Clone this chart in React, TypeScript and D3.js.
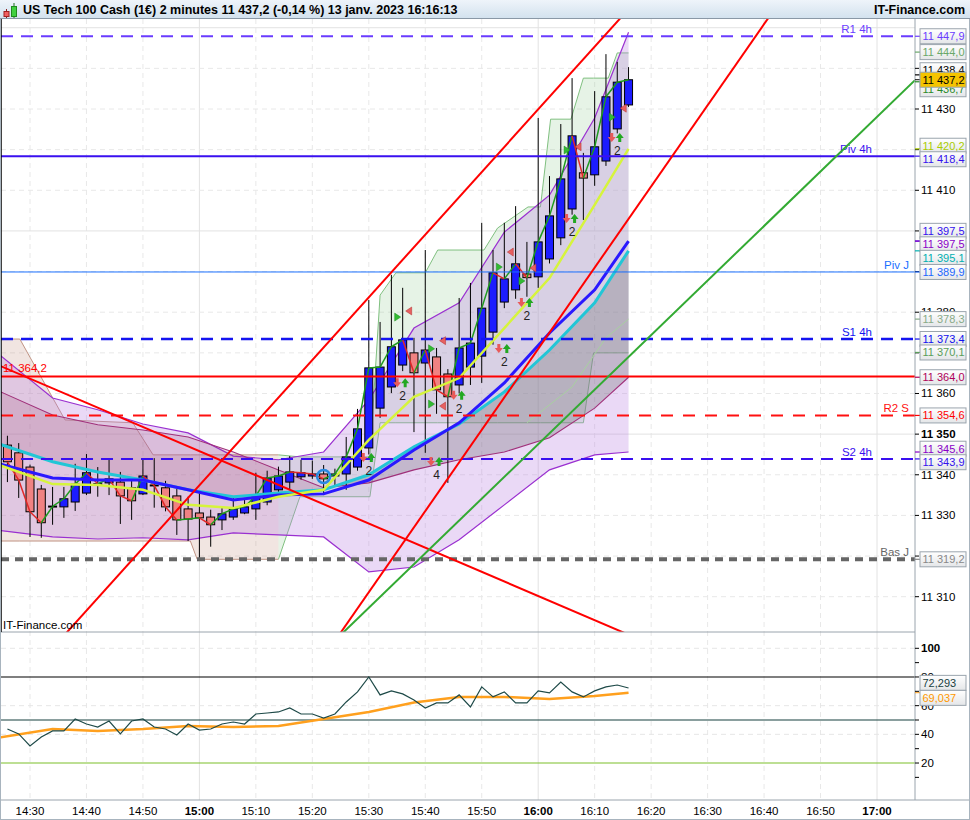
import * as d3 from "d3";

const W = 970;
const H = 820;
const AXIS_X = 915;
const MAIN_TOP = 19;
const MAIN_BOTTOM = 632;
const RSI_BOTTOM = 800;
const FONT = "'Liberation Sans', Arial, sans-serif";

// 2-minute bars, first one at 14:26
const START = new Date(2023, 0, 13, 14, 26);
const STEP_MIN = 2;

const opens = [
  11347.3, 11345.4, 11341.9, 11336.5, 11332.3, 11332.1, 11333.3, 11335.5, 11337.7, 11338.0,
  11338.2, 11336.8, 11335.3, 11337.5, 11336.8, 11334.8, 11331.6, 11330.6, 11329.6, 11328.9,
  11329.6, 11330.6, 11331.6, 11333.3, 11336.3, 11338.2, 11339.5, 11339.7, 11340.2, 11339.7,
  11340.2, 11341.9, 11346.6, 11356.4, 11361.6, 11367.0, 11370.0, 11367.5, 11369.0, 11364.8,
  11362.1, 11366.5, 11369.2, 11375.1, 11382.5, 11385.5, 11389.4, 11388.7, 11393.1, 11398.3,
  11405.4, 11414.3, 11413.8, 11417.2, 11425.1, 11431.0,
];
const highs = [
  11349.6, 11347.8, 11342.5, 11337.5, 11337.0, 11337.0, 11342.7, 11345.1, 11341.9, 11343.7,
  11340.7, 11338.7, 11343.7, 11344.1, 11338.5, 11336.8, 11334.6, 11335.8, 11331.4, 11331.8,
  11334.3, 11334.3, 11340.5, 11341.0, 11342.0, 11344.6, 11343.7, 11343.5, 11342.4, 11341.5,
  11349.3, 11356.2, 11383.0, 11377.6, 11389.2, 11386.0, 11373.7, 11395.3, 11371.2, 11366.0,
  11383.5, 11387.2, 11402.0, 11395.3, 11402.0, 11406.1, 11397.3, 11427.8, 11413.5, 11426.3,
  11437.6, 11419.2, 11434.4, 11443.5, 11441.6, 11440.3,
];
const lows = [
  11338.2, 11334.3, 11324.7, 11324.5, 11327.7, 11329.4, 11331.1, 11335.0, 11334.6, 11335.0,
  11327.9, 11328.9, 11335.0, 11331.9, 11331.0, 11325.2, 11323.7, 11319.2, 11322.3, 11326.4,
  11328.9, 11330.3, 11328.9, 11332.5, 11335.0, 11336.3, 11338.8, 11339.0, 11335.0, 11337.0,
  11336.3, 11341.0, 11345.0, 11354.0, 11360.1, 11365.5, 11350.5, 11345.4, 11355.0, 11338.0,
  11360.0, 11362.1, 11362.6, 11372.0, 11381.0, 11383.3, 11383.8, 11386.0, 11392.0, 11396.5,
  11404.0, 11402.7, 11411.1, 11416.0, 11424.0, 11430.5,
];
const closes = [
  11343.2, 11338.7, 11330.9, 11328.2, 11332.2, 11334.1, 11337.7, 11340.5, 11337.8, 11339.0,
  11334.8, 11333.6, 11339.7, 11337.4, 11332.1, 11328.9, 11329.1, 11329.4, 11327.7, 11330.4,
  11331.6, 11332.1, 11334.8, 11339.2, 11339.7, 11340.7, 11340.5, 11340.2, 11339.0, 11340.2,
  11344.4, 11351.3, 11366.3, 11366.5, 11371.5, 11373.2, 11365.1, 11370.7, 11360.9, 11359.2,
  11371.2, 11372.4, 11381.0, 11389.7, 11388.2, 11391.9, 11388.5, 11397.3, 11403.7, 11412.8,
  11423.4, 11413.0, 11420.7, 11433.0, 11436.6, 11437.2,
];
const LAST_PRICE = 11437.2;

// indicator lines, read at these bar indices
const maIdx = [-1, 4, 8, 12, 16, 20, 24, 28, 32, 36, 40, 44, 48, 52, 55];
const maBlue = [11342.9, 11339.2, 11338.7, 11338.7, 11336.3, 11333.8, 11335.0, 11335.3, 11338.7, 11346.1, 11352.8, 11362.6, 11374.9, 11385.5, 11397.5];
const maCyan = [11347.8, 11343.2, 11340.7, 11338.7, 11336.3, 11334.6, 11335.5, 11336.3, 11340.0, 11346.9, 11352.5, 11360.4, 11370.7, 11382.3, 11395.1];
const maYellow = [11342.7, 11337.7, 11337.5, 11336.3, 11332.6, 11331.8, 11334.6, 11336.3, 11348.6, 11359.2, 11363.8, 11376.1, 11388.4, 11406.4, 11420.2];
const bollUp = [11370.2, 11358.9, 11356.0, 11352.5, 11350.3, 11344.6, 11343.7, 11345.6, 11358.4, 11376.1, 11382.3, 11399.7, 11408.8, 11427.8, 11448.9];
const bollLow = [11326.4, 11324.7, 11324.2, 11324.5, 11324.0, 11325.7, 11325.2, 11324.7, 11316.1, 11317.3, 11324.0, 11332.6, 11341.2, 11344.9, 11345.6];
const cloudLine = [11360.9, 11354.7, 11352.3, 11351.0, 11349.3, 11345.6, 11341.2, 11336.8, 11338.0, 11341.2, 11343.7, 11345.6, 11349.1, 11356.4, 11364.0];

const faintIdx = [46, 50, 53, 55];
const faintVal = [11352.8, 11361.6, 11373.7, 11378.3];

// high / low channel breakpoints
const chanIdx = [-0.6, 1.1, 5.1, 11.1, 12.9, 16.2, 16.8, 24, 25.9, 32.1, 33, 34.4, 37, 38.1, 42.2, 43.4, 46.1, 47.2, 48.1, 49.9, 51, 51.9, 53.2, 54, 55];
const chanHigh = [11373.4, 11373.4, 11353.5, 11352.8, 11344.9, 11344.9, 11344.9, 11344.9, 11344.4, 11344.4, 11384.2, 11389.7, 11389.7, 11395.3, 11395.3, 11400.7, 11405.9, 11405.9, 11427.5, 11427.5, 11437.6, 11437.6, 11437.6, 11443.8, 11443.8];
const chanLow = [11323.7, 11323.7, 11323.7, 11323.7, 11323.7, 11323.7, 11319.2, 11319.2, 11334.6, 11334.6, 11352.8, 11352.8, 11352.8, 11352.8, 11352.8, 11352.8, 11352.8, 11352.8, 11352.8, 11352.8, 11352.8, 11370.0, 11370.0, 11370.0, 11370.0];
const CHAN_SPLIT = 24;

// trend lines: two anchors each [bar index, price]
const trendRed1 = [[10.25, 11316.6], [54.13, 11451.9]];
const trendRed2 = [[32.15, 11311.7], [54.31, 11400.2]];
const trendRed3 = [[-0.39, 11366.5], [45.71, 11311.7]];
const trendGreen = [[33.65, 11311.7], [56.08, 11371.9]];

// pivot levels
const pivotLevels = [11447.9, 11418.4, 11389.9, 11373.4, 11364.2, 11354.6, 11343.9, 11319.2];
const pivotNames = ["R1 4h", "Piv 4h", "Piv J", "S1 4h", "", "R2 S", "S2 4h", "Bas J"];
const pivotStyle = [
  { color: "#6a3cff", width: 2, dash: "12,8", end: 872 },
  { color: "#3a10f0", width: 2, dash: "", end: 872 },
  { color: "#1a70ff", width: 1, dash: "", end: 909 },
  { color: "#1414f0", width: 2.5, dash: "12,8", end: 872 },
  { color: "#ff0000", width: 2, dash: "", end: 909 },
  { color: "#ff1010", width: 2, dash: "12,10", end: 909 },
  { color: "#3a10f0", width: 2, dash: "12,8", end: 872 },
  { color: "#666666", width: 4, dash: "8,6", end: 909 },
];

// signals
const sigIdx = [32, 35, 38, 40, 44, 46, 50, 54];
const sigPrice = [11343.9, 11362.3, 11342.9, 11359.2, 11370.7, 11382.0, 11402.7, 11422.6];
const sigCount = ["2", "2", "4", "2", "2", "2", "2", "2"];
const triIdx = [35, 38, 38, 44, 46, 50, 54];
const triGreen = [11378.8, 11357.4, 11371.0, 11391.1, 11387.7, 11419.9, 11428.0];
const triRed = [11380.3, 11356.9, 11373.0, 11394.8, 11390.9, 11420.7, 11430.2];
const MARKED_BAR = 28;

// right axis tags
const tagValues = [11447.9, 11444.0, 11438.4, 11436.7, 11420.2, 11418.4, 11397.5, 11397.5, 11395.1, 11389.9, 11378.3, 11373.4, 11370.1, 11364.0, 11354.6, 11345.6, 11343.9, 11319.2];
const tagColors = ["#6a3cff", "#6aa86a", "#000000", "#2a8a2a", "#a8cc00", "#3311ee", "#3311ee", "#8a00c8", "#00b0b0", "#1a66ff", "#88aa88", "#1010ee", "#5a9e5a", "#b0005a", "#ff0000", "#8a00c8", "#3311ee", "#888888"];
const priceTicks = d3.range(11310, 11441, 10);

// RSI
const rsiValues = [
  43.7, 40.3, 31.9, 38.2, 42.4, 42.4, 50.7, 47.2, 45.1, 49.3,
  40.3, 49.3, 50.7, 45.1, 43.7, 39.6, 47.2, 43.0, 43.7, 47.2,
  48.6, 47.2, 54.2, 54.9, 55.6, 58.4, 54.2, 54.2, 51.4, 54.2,
  62.6, 69.6, 80.0, 67.5, 70.3, 68.2, 64.0, 58.4, 61.9, 61.9,
  67.5, 59.1, 73.1, 66.1, 69.6, 61.9, 61.9, 70.3, 68.9, 76.5,
  69.6, 66.1, 70.3, 73.1, 74.4, 72.293,
];
const rsiMaIdx = [-1, 4, 8, 12, 16, 20, 24, 28, 32, 36, 40, 44, 48, 52, 55];
const rsiMa = [37.5, 43.7, 42.4, 43.7, 45.8, 45.1, 45.8, 50.7, 55.6, 62.2, 66.1, 66.1, 64.7, 66.8, 69.037];
const rsiTicks = [20, 40, 60, 80, 100];

const HEADER = "US Tech 100 Cash (1€) 2 minutes 11 437,2 (-0,14 %) 13 janv. 2023 16:16:13";

const xScale = d3
  .scaleTime()
  .domain([new Date(2023, 0, 13, 14, 30), new Date(2023, 0, 13, 17, 0)])
  .range([30, 877]);
const xIdx = (i: number) => xScale(new Date(START.getTime() + i * STEP_MIN * 60000));
const yScale = d3.scaleLinear().domain([11310, 11430]).range([596.7, 109]);
const rsiScale = d3.scaleLinear().domain([0, 100]).range([791.7, 648.3]);

const fmtPrice = (v: number) => d3.format(",.1f")(v).replace(",", " ").replace(".", ",");
const fmtTick = (v: number) => d3.format(",.0f")(v).replace(",", " ");
const fmtRsi = (v: number) => d3.format(".3f")(v).replace(".", ",");

const lineOf = (idx: number[], vals: number[], ys: (v: number) => number) =>
  d3
    .line<number>()
    .x((_, k) => xIdx(idx[k]))
    .y((v) => ys(v))(vals) || "";

const bandOf = (idx: number[], lo: number[], hi: number[], from: number, to: number) => {
  const ks = d3.range(idx.length).filter((k) => idx[k] >= from && idx[k] <= to);
  return (
    d3
      .area<number>()
      .x((k) => xIdx(idx[k]))
      .y0((k) => yScale(lo[k]))
      .y1((k) => yScale(hi[k]))(ks) || ""
  );
};

const trendPath = (pts: number[][]) => {
  const x1 = xIdx(pts[0][0]);
  const y1 = yScale(pts[0][1]);
  const x2 = xIdx(pts[1][0]);
  const y2 = yScale(pts[1][1]);
  const k = (y2 - y1) / (x2 - x1);
  return `M0,${y1 - k * x1}L${AXIS_X},${y1 + k * (AXIS_X - x1)}`;
};

// relax overlapping tags; the anchored tag (last price) does not move
const relax = (ys: number[], anchor: number, gap: number, anchorGap: number) => {
  const out = [...ys, anchor];
  const fixed = out.map((_, i) => i === out.length - 1);
  for (let it = 0; it < 300; it++) {
    const order = d3.range(out.length).sort((a, b) => out[a] - out[b] || a - b);
    for (let j = 1; j < order.length; j++) {
      const a = order[j - 1];
      const b = order[j];
      const g = fixed[a] || fixed[b] ? anchorGap : gap;
      const d = out[b] - out[a];
      if (d < g) {
        const over = g - d;
        if (fixed[a]) out[b] += over;
        else if (fixed[b]) out[a] -= over;
        else {
          out[a] -= over / 2;
          out[b] += over / 2;
        }
      }
    }
  }
  return out.slice(0, ys.length);
};

const Tag = ({ y, text, color, fill }: { y: number; text: string; color: string; fill?: string }) => (
  <g>
    <rect x={920} y={y - 7.5} width={46} height={15} fill={fill || "url(#tagGrad)"} stroke="#9aa4ad" />
    <text x={922.5} y={y + 4} fontSize={11} fill={color}>
      {text}
    </text>
  </g>
);

export default function App() {
  const bars = d3.range(opens.length);
  const timeTicks = xScale.ticks(d3.timeMinute.every(10) as d3.TimeInterval);
  const tagYs = relax(tagValues.map((v) => yScale(v)), yScale(LAST_PRICE), 13.5, 9.5);
  const rsiTagYs = [rsiScale(rsiValues[rsiValues.length - 1]), rsiScale(rsiMa[rsiMa.length - 1])];
  const rsiMid = (rsiTagYs[0] + rsiTagYs[1]) / 2;

  return (
    <svg
      width={W}
      height={H}
      style={{ position: "absolute", left: 0, top: 0, background: "#fff" }}
      fontFamily={FONT}
    >
      <defs>
        <linearGradient id="hdr" x1="0" y1="0" x2="0" y2="1">
          <stop offset="0" stopColor="#eef4fa" />
          <stop offset="1" stopColor="#d3e2ee" />
        </linearGradient>
        <linearGradient id="tagGrad" x1="0" y1="0" x2="0" y2="1">
          <stop offset="0" stopColor="#ffffff" />
          <stop offset="1" stopColor="#e4e6e8" />
        </linearGradient>
        <clipPath id="mainClip">
          <rect x={1} y={MAIN_TOP} width={AXIS_X - 1} height={MAIN_BOTTOM - MAIN_TOP} />
        </clipPath>
        <clipPath id="rsiClip">
          <rect x={1} y={MAIN_BOTTOM} width={AXIS_X - 1} height={RSI_BOTTOM - MAIN_BOTTOM} />
        </clipPath>
      </defs>

      {/* grid */}
      {timeTicks.map((t, i) => (
        <line
          key={`vg${i}`}
          x1={xScale(t)}
          x2={xScale(t)}
          y1={MAIN_TOP}
          y2={RSI_BOTTOM}
          stroke={t.getMinutes() === 0 ? "#e2e2e2" : "#e8e8e8"}
          strokeDasharray={t.getMinutes() === 0 ? "" : "5,4"}
        />
      ))}
      {d3.range(11300, 11451, 10).map((v) => (
        <line
          key={`hg${v}`}
          x1={1}
          x2={AXIS_X}
          y1={yScale(v)}
          y2={yScale(v)}
          stroke={v % 50 === 0 ? "#e2e2e2" : "#e8e8e8"}
          strokeDasharray={v % 50 === 0 ? "" : "5,4"}
          clipPath="url(#mainClip)"
        />
      ))}
      {[100, 60, 40].map((v) => (
        <line key={`rg${v}`} x1={1} x2={AXIS_X} y1={rsiScale(v)} y2={rsiScale(v)} stroke="#e6e6e6" strokeDasharray="5,4" />
      ))}

      <g clipPath="url(#mainClip)">
        {/* high / low channel */}
        <path d={bandOf(chanIdx, chanLow, chanHigh, -1, CHAN_SPLIT)} fill="rgba(190,135,120,0.22)" />
        <path d={bandOf(chanIdx, chanLow, chanHigh, CHAN_SPLIT, 60)} fill="rgba(140,200,140,0.22)" />
        {[chanHigh, chanLow].map((arr, j) => (
          <g key={`ch${j}`}>
            <path
              d={lineOf(chanIdx.filter((i) => i <= CHAN_SPLIT), arr.filter((_, k) => chanIdx[k] <= CHAN_SPLIT), yScale)}
              fill="none"
              stroke="#c09484"
              strokeWidth={1}
            />
            <path
              d={lineOf(chanIdx.filter((i) => i >= CHAN_SPLIT), arr.filter((_, k) => chanIdx[k] >= CHAN_SPLIT), yScale)}
              fill="none"
              stroke="#80c080"
              strokeWidth={1}
            />
          </g>
        ))}

        {/* bollinger */}
        <path d={bandOf(maIdx, bollLow, bollUp, -2, 60)} fill="rgba(185,130,225,0.3)" />
        <path d={lineOf(maIdx, bollUp, yScale)} fill="none" stroke="#9a30d0" strokeWidth={1.2} />
        <path d={lineOf(maIdx, bollLow, yScale)} fill="none" stroke="#9a30d0" strokeWidth={1.2} />

        {/* cloud */}
        <path d={bandOf(maIdx, maCyan, cloudLine, -2, 28)} fill="rgba(150,60,100,0.18)" />
        <path d={bandOf(maIdx, cloudLine, maCyan, 28, 60)} fill="rgba(105,105,105,0.3)" />
        <path d={lineOf(maIdx, cloudLine, yScale)} fill="none" stroke="#a0307a" strokeWidth={1.1} />
        <path d={lineOf(faintIdx, faintVal, yScale)} fill="none" stroke="#a8d0a0" strokeWidth={1} />

        {/* candles */}
        {bars.map((i) => {
          const cx = xIdx(i);
          const up = closes[i] >= opens[i];
          const top = yScale(Math.max(opens[i], closes[i]));
          const bot = yScale(Math.min(opens[i], closes[i]));
          return (
            <g key={`c${i}`}>
              <line x1={cx} x2={cx} y1={yScale(highs[i])} y2={yScale(lows[i])} stroke="#000" strokeWidth={1} />
              <rect
                x={cx - 4}
                y={top}
                width={8}
                height={Math.max(1, bot - top)}
                fill={up ? "#1c1cff" : "#f08282"}
                stroke="#000"
                strokeWidth={1}
              />
            </g>
          );
        })}

        {/* close line */}
        {bars.slice(1).map((i) => (
          <line
            key={`cl${i}`}
            x1={xIdx(i - 1)}
            x2={xIdx(i)}
            y1={yScale(closes[i - 1])}
            y2={yScale(closes[i])}
            stroke={closes[i] >= closes[i - 1] ? "#1e9a1e" : "#e02828"}
            strokeWidth={1.5}
          />
        ))}

        {/* moving averages */}
        <path d={lineOf(maIdx, maCyan, yScale)} fill="none" stroke="#22c6d6" strokeWidth={3} />
        <path d={lineOf(maIdx, maBlue, yScale)} fill="none" stroke="#2a18ff" strokeWidth={3} />
        <path d={lineOf(maIdx, maYellow, yScale)} fill="none" stroke="#d6f43c" strokeWidth={2.5} />

        {/* pivot levels */}
        {pivotLevels.map((v, k) => (
          <g key={`pv${k}`}>
            <line
              x1={1}
              x2={AXIS_X}
              y1={yScale(v)}
              y2={yScale(v)}
              stroke={pivotStyle[k].color}
              strokeWidth={pivotStyle[k].width}
              strokeDasharray={pivotStyle[k].dash}
            />
            {pivotNames[k] && (
              <text
                x={pivotStyle[k].end}
                y={yScale(v) - 3}
                textAnchor="end"
                fontSize={11.5}
                fill={pivotStyle[k].color}
              >
                {pivotNames[k]}
              </text>
            )}
          </g>
        ))}
        <text x={3} y={yScale(pivotLevels[4]) - 4} fontSize={11.5} fill="#ff0000">
          {fmtPrice(pivotLevels[4])}
        </text>

        {/* trend lines */}
        {[trendRed1, trendRed2, trendRed3].map((t, k) => (
          <path key={`tr${k}`} d={trendPath(t)} stroke="#ff0000" strokeWidth={2} fill="none" />
        ))}
        <path d={trendPath(trendGreen)} stroke="#33aa33" strokeWidth={2} fill="none" />

        {/* signals */}
        {sigIdx.map((i, k) => {
          const cx = xIdx(i);
          const y = yScale(sigPrice[k]);
          return (
            <g key={`sg${k}`}>
              <path d={`M${cx - 7},${y - 6}h3v4h2.5l-4,5l-4,-5h2.5z`} fill="#e85a5a" />
              <path d={`M${cx + 4},${y + 3}h-3v-4h-2.5l4,-5l4,5h-2.5z`} fill="#22a822" />
              <text x={cx} y={y + 16} textAnchor="middle" fontSize={12} fill="#222">
                {sigCount[k]}
              </text>
            </g>
          );
        })}
        {triIdx.map((i, k) => {
          const cx = xIdx(i);
          const yg = yScale(triGreen[k]);
          const yr = yScale(triRed[k]);
          return (
            <g key={`tg${k}`}>
              <path d={`M${cx - 8},${yg - 4}l6,4l-6,4z`} fill="#33bb33" stroke="#1e8a1e" strokeWidth={0.5} />
              <path d={`M${cx + 9},${yr - 4}l-6,4l6,4z`} fill="#e86060" stroke="#b03030" strokeWidth={0.5} />
            </g>
          );
        })}
        <circle
          cx={xIdx(MARKED_BAR)}
          cy={yScale((opens[MARKED_BAR] + closes[MARKED_BAR]) / 2)}
          r={6.5}
          fill="none"
          stroke="#2a8ae0"
          strokeWidth={2.5}
        />
      </g>

      <text x={3} y={629} fontSize={11.5} fill="#000">
        IT-Finance.com
      </text>

      {/* RSI panel */}
      <g clipPath="url(#rsiClip)">
        <line x1={1} x2={AXIS_X} y1={rsiScale(80)} y2={rsiScale(80)} stroke="#000" strokeWidth={1.2} />
        <line x1={1} x2={AXIS_X} y1={rsiScale(50)} y2={rsiScale(50)} stroke="#17413f" strokeWidth={1.2} />
        <line x1={1} x2={AXIS_X} y1={rsiScale(20)} y2={rsiScale(20)} stroke="#7cbf2a" strokeWidth={1.2} />
        <path d={lineOf(rsiMaIdx, rsiMa, rsiScale)} fill="none" stroke="#ffa01e" strokeWidth={2.5} />
        <path d={lineOf(bars, rsiValues, rsiScale)} fill="none" stroke="#1e4a48" strokeWidth={1.2} />
      </g>

      {/* frames */}
      <line x1={1} x2={AXIS_X} y1={MAIN_BOTTOM} y2={MAIN_BOTTOM} stroke="#9aa4ad" />
      <line x1={0} x2={W} y1={RSI_BOTTOM} y2={RSI_BOTTOM} stroke="#9aa4ad" />
      <line x1={AXIS_X} x2={AXIS_X} y1={MAIN_TOP} y2={RSI_BOTTOM} stroke="#9aa4ad" />
      <line x1={1} x2={1} y1={MAIN_TOP} y2={MAIN_BOTTOM} stroke="#000" strokeWidth={1.5} />
      <rect x={0.5} y={0.5} width={W - 1} height={H - 1} fill="none" stroke="#a8b4be" />

      {/* header */}
      <rect x={0} y={0} width={W} height={18} fill="url(#hdr)" />
      <line x1={0} x2={W} y1={18.5} y2={18.5} stroke="#8a98a6" />
      <line x1={6.5} x2={6.5} y1={9} y2={18} stroke="#8a2020" />
      <rect x={4} y={11.5} width={5} height={5} fill="#f06060" stroke="#a02020" />
      <line x1={14} x2={14} y1={3} y2={18} stroke="#207020" />
      <rect x={11.5} y={6.5} width={5} height={10} fill="#40d040" stroke="#208a20" />
      <text x={23} y={14} fontSize={12.5} fontWeight="bold" fill="#000">
        {HEADER}
      </text>
      <text x={965} y={14} fontSize={12.5} fontWeight="bold" fill="#000" textAnchor="end">
        IT-Finance.com
      </text>

      {/* x axis */}
      {timeTicks.map((t, i) => (
        <text
          key={`xt${i}`}
          x={xScale(t)}
          y={815}
          textAnchor="middle"
          fontSize={11.5}
          fontWeight={t.getMinutes() === 0 ? "bold" : "normal"}
          fill="#000"
        >
          {d3.timeFormat("%H:%M")(t)}
        </text>
      ))}

      {/* price axis */}
      {priceTicks.map((v) => (
        <g key={`pt${v}`}>
          <line x1={AXIS_X} x2={AXIS_X + 4} y1={yScale(v)} y2={yScale(v)} stroke="#000" />
          <text x={921} y={yScale(v) + 4} fontSize={11.5} fontWeight={v % 50 === 0 ? "bold" : "normal"} fill="#000">
            {fmtTick(v)}
          </text>
        </g>
      ))}
      {tagValues.map((v, k) => (
        <g key={`tag${k}`}>
          <line x1={AXIS_X} x2={AXIS_X + 5} y1={yScale(v)} y2={yScale(v)} stroke={tagColors[k]} strokeWidth={1.2} />
          <Tag y={tagYs[k]} text={fmtPrice(v)} color={tagColors[k]} />
        </g>
      ))}
      <line x1={AXIS_X} x2={AXIS_X + 5} y1={yScale(LAST_PRICE)} y2={yScale(LAST_PRICE)} stroke="#000" />
      <Tag y={yScale(LAST_PRICE)} text={fmtPrice(LAST_PRICE)} color="#000" fill="#f5c400" />

      {/* RSI axis */}
      {d3.range(10, 101, 10).map((v) => (
        <line key={`rt${v}`} x1={AXIS_X} x2={AXIS_X + 4} y1={rsiScale(v)} y2={rsiScale(v)} stroke="#000" />
      ))}
      {rsiTicks.map((v) => (
        <text key={`rl${v}`} x={921} y={rsiScale(v) + 4} fontSize={11.5} fontWeight={v === 100 ? "bold" : "normal"} fill="#000">
          {v}
        </text>
      ))}
      <line x1={AXIS_X} x2={AXIS_X + 5} y1={rsiTagYs[1]} y2={rsiTagYs[1]} stroke="#ffa01e" />
      <Tag y={rsiMid - 7.5} text={fmtRsi(rsiValues[rsiValues.length - 1])} color="#17413f" />
      <Tag y={rsiMid + 7.5} text={fmtRsi(rsiMa[rsiMa.length - 1])} color="#ff9900" />
    </svg>
  );
}
